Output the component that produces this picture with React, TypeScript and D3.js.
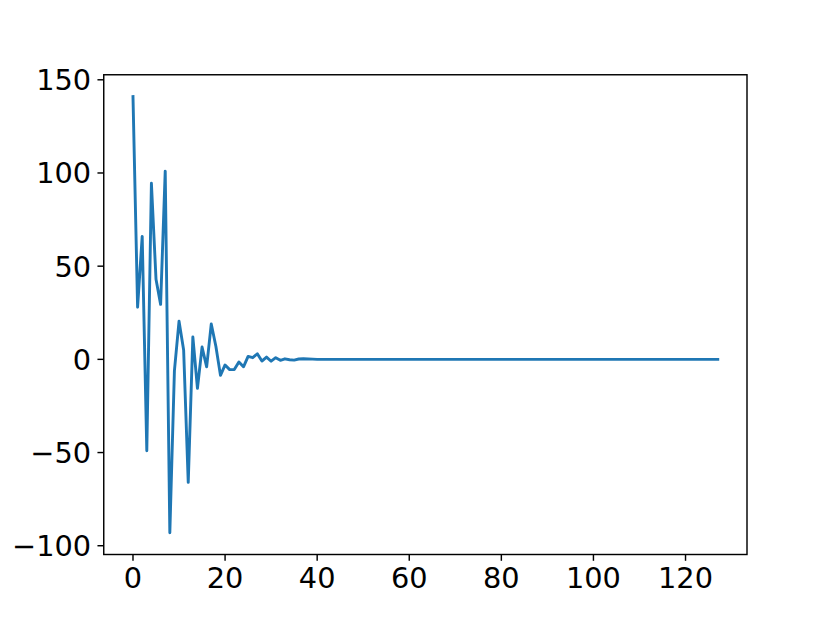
import React from "react";
import * as d3 from "d3";

const values: number[] = [
  141, 28, 66, -49, 94.5, 43, 29.5, 101, -93, -6,
  20.5, 5, -66, 12, -15.5, 6.6, -4, 19, 7, -8.6,
  -3, -5.5, -5.5, -1.4, -4, 1.6, 0.9, 3, -0.9, 1.2,
  -1, 0.9, -0.5, 0.3, -0.2, -0.4, 0.2, 0.3, 0.2, 0.1,
  0, 0, 0, 0, 0, 0, 0, 0, 0, 0,
  0, 0, 0, 0, 0, 0, 0, 0, 0, 0,
  0, 0, 0, 0, 0, 0, 0, 0, 0, 0,
  0, 0, 0, 0, 0, 0, 0, 0, 0, 0,
  0, 0, 0, 0, 0, 0, 0, 0, 0, 0,
  0, 0, 0, 0, 0, 0, 0, 0, 0, 0,
  0, 0, 0, 0, 0, 0, 0, 0, 0, 0,
  0, 0, 0, 0, 0, 0, 0, 0, 0, 0,
  0, 0, 0, 0, 0, 0, 0, 0,
];
const xTicks: number[] = [0, 20, 40, 60, 80, 100, 120];
const yTicks: number[] = [-100, -50, 0, 50, 100, 150];

const W = 830;
const H = 623;
const left = 103.75;
const right = 747;
const top = 74.76;
const bottom = 554.5;
const FONT = 28.8;

export default function App() {
  const n = values.length;
  const xmin = 0, xmax = n - 1;
  const xm = (xmax - xmin) * 0.05;
  const ymin = d3.min(values)!, ymax = d3.max(values)!;
  const ym = (ymax - ymin) * 0.05;
  const x = d3.scaleLinear().domain([xmin - xm, xmax + xm]).range([left, right]);
  const y = d3.scaleLinear().domain([ymin - ym, ymax + ym]).range([bottom, top]);
  const line = d3.line<number>().x((_, i) => x(i)).y((d) => y(d));
  const fmt = (v: number) => (v < 0 ? "\u2212" + Math.abs(v) : String(v));
  const tickLen = 6.3;
  const pad = 6.3;
  return (
    <svg
      width={W}
      height={H}
      style={{ position: "absolute", left: 0, top: 0, background: "#fff" }}
      fontFamily="DejaVu Sans"
    >
      <rect x={0} y={0} width={W} height={H} fill="#fff" />
      <path
        d={line(values) || ""}
        fill="none"
        stroke="#1f77b4"
        strokeWidth={2.9}
        strokeLinejoin="round"
        strokeLinecap="square"
      />
      <rect
        x={left}
        y={top}
        width={right - left}
        height={bottom - top}
        fill="none"
        stroke="#000"
        strokeWidth={1.44}
      />
      {xTicks.map((t) => (
        <g key={"x" + t}>
          <line x1={x(t)} x2={x(t)} y1={bottom} y2={bottom + tickLen} stroke="#000" strokeWidth={1.44} />
          <text x={x(t)} y={bottom + tickLen + pad + FONT * 0.729} fontSize={FONT} textAnchor="middle" fill="#000">
            {fmt(t)}
          </text>
        </g>
      ))}
      {yTicks.map((t) => (
        <g key={"y" + t}>
          <line x1={left - tickLen} x2={left} y1={y(t)} y2={y(t)} stroke="#000" strokeWidth={1.44} />
          <text x={left - tickLen - pad} y={y(t) + FONT * 0.729 / 2} fontSize={FONT} textAnchor="end" fill="#000">
            {fmt(t)}
          </text>
        </g>
      ))}
    </svg>
  );
}
